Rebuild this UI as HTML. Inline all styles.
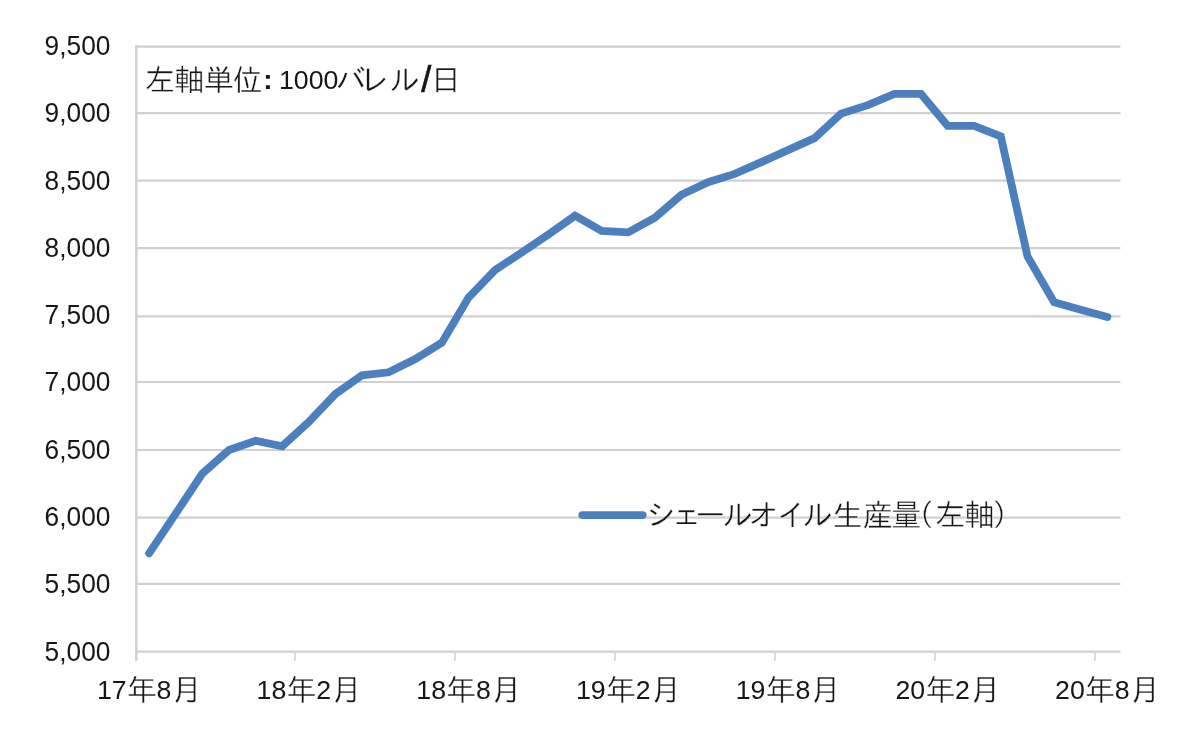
<!DOCTYPE html>
<html lang="ja">
<head>
<meta charset="utf-8">
<title>シェールオイル生産量</title>
<style>
html,body{margin:0;padding:0;background:#fff;}
body{width:1200px;height:735px;overflow:hidden;}
svg{display:block;filter:blur(0.45px);}
text{fill:#161616;}
.n{font-family:"Liberation Sans",sans-serif;font-size:26.7px;}
.j{font-family:"IPAPGothic","IPAGothic","Noto Sans CJK JP",sans-serif;font-size:30.5px;stroke:#fff;stroke-width:0.4px;}
.grid line,.axis line{stroke:#d0d0d0;stroke-width:2.2;}
.axis line.tk{stroke:#d6d6d6;stroke-width:1.8;}
.yl text{font-family:"Liberation Sans",sans-serif;font-size:26.7px;}
</style>
</head>
<body>
<svg width="1200" height="735" viewBox="0 0 1200 735">
<rect width="1200" height="735" fill="#ffffff"/>
<g class="grid">
<line x1="135.1" y1="46.6" x2="1120.4" y2="46.6"/>
<line x1="135.1" y1="113.1" x2="1120.4" y2="113.1"/>
<line x1="135.1" y1="180.7" x2="1120.4" y2="180.7"/>
<line x1="135.1" y1="248.1" x2="1120.4" y2="248.1"/>
<line x1="135.1" y1="316.3" x2="1120.4" y2="316.3"/>
<line x1="135.1" y1="382.0" x2="1120.4" y2="382.0"/>
<line x1="135.1" y1="450.0" x2="1120.4" y2="450.0"/>
<line x1="135.1" y1="517.6" x2="1120.4" y2="517.6"/>
<line x1="135.1" y1="583.8" x2="1120.4" y2="583.8"/>
</g>
<g class="axis">
<line x1="136.3" y1="45.5" x2="136.3" y2="660.8" style="stroke-width:2.4"/>
<line x1="135.1" y1="651.6" x2="1120.4" y2="651.6"/>
<line class="tk" x1="294.9" y1="651.6" x2="294.9" y2="660.8"/>
<line class="tk" x1="454.9" y1="651.6" x2="454.9" y2="660.8"/>
<line class="tk" x1="614.9" y1="651.6" x2="614.9" y2="660.8"/>
<line class="tk" x1="774.9" y1="651.6" x2="774.9" y2="660.8"/>
<line class="tk" x1="934.9" y1="651.6" x2="934.9" y2="660.8"/>
<line class="tk" x1="1094.9" y1="651.6" x2="1094.9" y2="660.8"/>
</g>
<polyline points="149.1,553.3 175.7,513.7 202.3,473.7 229.0,450.0 255.6,440.7 282.2,446.2 308.8,422.0 335.4,394.0 362.0,375.3 388.7,372.3 415.3,359.0 441.9,342.7 468.5,297.6 495.1,270.0 521.7,252.6 548.4,234.5 575.0,215.7 601.6,230.8 628.2,232.3 654.8,217.7 681.4,194.7 708.1,182.2 734.7,173.9 761.3,162.1 787.9,150.1 814.5,138.1 841.1,113.6 867.8,105.1 894.4,93.9 921.0,93.9 947.6,125.8 974.2,125.8 1000.8,136.4 1027.5,256.4 1054.1,302.2 1080.7,309.7 1107.3,317.0" fill="none" stroke="#4c7fbd" stroke-width="7.8" stroke-linejoin="miter" stroke-linecap="round"/>
<line x1="582.2" y1="515.1" x2="642.8" y2="515.1" stroke="#4c7fbd" stroke-width="7.6" stroke-linecap="round"/>
<g class="yl">
<text transform="translate(110.4,54.8) scale(0.985,1.03)" text-anchor="end">9,500</text>
<text transform="translate(110.4,122.1) scale(0.985,1.03)" text-anchor="end">9,000</text>
<text transform="translate(110.4,189.5) scale(0.985,1.03)" text-anchor="end">8,500</text>
<text transform="translate(110.4,256.8) scale(0.985,1.03)" text-anchor="end">8,000</text>
<text transform="translate(110.4,324.1) scale(0.985,1.03)" text-anchor="end">7,500</text>
<text transform="translate(110.4,391.4) scale(0.985,1.03)" text-anchor="end">7,000</text>
<text transform="translate(110.4,458.8) scale(0.985,1.03)" text-anchor="end">6,500</text>
<text transform="translate(110.4,526.1) scale(0.985,1.03)" text-anchor="end">6,000</text>
<text transform="translate(110.4,593.4) scale(0.985,1.03)" text-anchor="end">5,500</text>
<text transform="translate(110.4,660.8) scale(0.985,1.03)" text-anchor="end">5,000</text>
</g>
<g class="xl">
<text><tspan class="n" x="96.9" y="699.4">17</tspan><tspan class="j" x="126.4" y="700.5">年</tspan><tspan class="n" x="156.6" y="699.4">8</tspan><tspan class="j" x="171.8" y="700.5">月</tspan></text>
<text><tspan class="n" x="256.6" y="699.4">18</tspan><tspan class="j" x="286.1" y="700.5">年</tspan><tspan class="n" x="316.3" y="699.4">2</tspan><tspan class="j" x="331.5" y="700.5">月</tspan></text>
<text><tspan class="n" x="416.3" y="699.4">18</tspan><tspan class="j" x="445.8" y="700.5">年</tspan><tspan class="n" x="476.0" y="699.4">8</tspan><tspan class="j" x="491.2" y="700.5">月</tspan></text>
<text><tspan class="n" x="576.0" y="699.4">19</tspan><tspan class="j" x="605.5" y="700.5">年</tspan><tspan class="n" x="635.7" y="699.4">2</tspan><tspan class="j" x="650.9" y="700.5">月</tspan></text>
<text><tspan class="n" x="735.7" y="699.4">19</tspan><tspan class="j" x="765.2" y="700.5">年</tspan><tspan class="n" x="795.4" y="699.4">8</tspan><tspan class="j" x="810.6" y="700.5">月</tspan></text>
<text><tspan class="n" x="895.4" y="699.4">20</tspan><tspan class="j" x="924.9" y="700.5">年</tspan><tspan class="n" x="955.1" y="699.4">2</tspan><tspan class="j" x="970.3" y="700.5">月</tspan></text>
<text><tspan class="n" x="1055.1" y="699.4">20</tspan><tspan class="j" x="1084.6" y="700.5">年</tspan><tspan class="n" x="1114.8" y="699.4">8</tspan><tspan class="j" x="1130.0" y="700.5">月</tspan></text>
</g>
<text><tspan class="j" x="144.8 174.1 203.5 232.8" y="90.5">左軸単位</tspan><tspan class="n" x="263.3" y="88.8" style="font-weight:bold;font-size:28px">:</tspan><tspan class="n" x="271.5 279.0" y="88.8"> 1000</tspan><tspan class="j" x="336.0 362.6 389.4" y="90.5">バレル</tspan><tspan class="n" x="421.2" y="92" style="font-size:36px;stroke:#161616;stroke-width:0.7px">/</tspan><tspan class="j" x="430.6" y="90.5">日</tspan></text>
<text class="j" y="526" x="647.5 674.4 696.1 722.4 749.7 778.8 802.4 832.4 862.6 891.0 917.3 935.1 964.3 992.3">シェールオイル生産量（左軸）</text>
</svg>
</body>
</html>
